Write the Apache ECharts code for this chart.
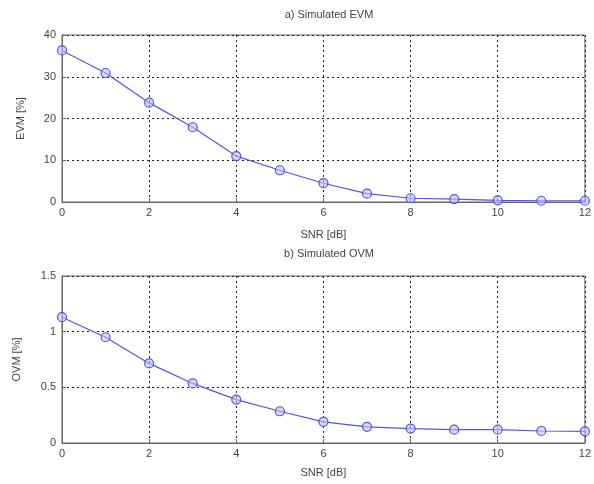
<!DOCTYPE html>
<html>
<head>
<meta charset="utf-8">
<script src="https://cdn.jsdelivr.net/npm/echarts@6/dist/echarts.min.js"></script>
<style>
  html, body { margin: 0; padding: 0; background: #fff; }
  #main { width: 594px; height: 484px; }
</style>
</head>
<body>
<div id="main"></div>
<script>
// SNR in dB (x axis for both plots)
const snr = [0, 1, 2, 3, 4, 5, 6, 7, 8, 9, 10, 11, 12]
// a) simulated EVM [%]
const evm = [36.3, 30.9, 23.8, 17.9, 11.0, 7.6, 4.5, 2.0, 0.9, 0.7, 0.4, 0.3, 0.3]
// b) simulated OVM [%]
const ovm = [1.13, 0.95, 0.715, 0.535, 0.39, 0.285, 0.19, 0.145, 0.13, 0.12, 0.12, 0.108, 0.105]

const txt = '#444'
const lineColor = '#5555dc'
const gridLine = { show: true, lineStyle: { color: '#222', type: [2, 3], width: 1 } }

const xAxisBase = (gridIndex, gap) => ({
  type: 'value',
  gridIndex: gridIndex,
  min: 0,
  max: 12,
  interval: 2,
  name: 'SNR [dB]',
  nameLocation: 'middle',
  nameGap: gap,
  nameTextStyle: { color: txt, fontSize: 11, fontFamily: 'Liberation Sans' },
  axisLine: { show: true, lineStyle: { color: '#666' } },
  axisTick: { show: true, inside: true, length: 4, lineStyle: { color: '#666' } },
  axisLabel: { color: txt, fontSize: 11, margin: 5, fontFamily: 'Liberation Sans' },
  splitLine: gridLine
})

const chart = echarts.init(document.getElementById('main'))
const option = {
  animation: false,
  backgroundColor: '#fff',
  title: [
    {
      text: 'a) Simulated EVM', left: 324, top: 4, textAlign: 'center',
      textStyle: { color: txt, fontSize: 11, fontWeight: 'normal', fontFamily: 'Liberation Sans' }
    },
    {
      text: 'b) Simulated OVM', left: 324, top: 243, textAlign: 'center',
      textStyle: { color: txt, fontSize: 11, fontWeight: 'normal', fontFamily: 'Liberation Sans' }
    }
  ],
  grid: [
    { left: 62, right: 8, top: 35, height: 167, show: true, borderColor: '#666', borderWidth: 1 },
    { left: 62, right: 8, top: 276, height: 167, show: true, borderColor: '#666', borderWidth: 1 }
  ],
  xAxis: [xAxisBase(0, 27), xAxisBase(1, 24)],
  yAxis: [
    {
      type: 'value', gridIndex: 0, min: 0, max: 40, interval: 10,
      name: 'EVM [%]', nameLocation: 'middle', nameGap: 36,
      nameTextStyle: { color: txt, fontSize: 11, fontFamily: 'Liberation Sans' },
      axisLine: { show: true, lineStyle: { color: '#666' } },
      axisTick: { show: true, inside: true, length: 4, lineStyle: { color: '#666' } },
      axisLabel: { color: txt, fontSize: 11, margin: 6, fontFamily: 'Liberation Sans' },
      splitLine: gridLine
    },
    {
      type: 'value', gridIndex: 1, min: 0, max: 1.5, interval: 0.5,
      name: 'OVM [%]', nameLocation: 'middle', nameGap: 40,
      nameTextStyle: { color: txt, fontSize: 11, fontFamily: 'Liberation Sans' },
      axisLine: { show: true, lineStyle: { color: '#666' } },
      axisTick: { show: true, inside: true, length: 4, lineStyle: { color: '#666' } },
      axisLabel: { color: txt, fontSize: 11, margin: 6, fontFamily: 'Liberation Sans' },
      splitLine: gridLine
    }
  ],
  series: [
    {
      type: 'line', xAxisIndex: 0, yAxisIndex: 0,
      data: snr.map((x, i) => [x, evm[i]]),
      symbol: 'circle', symbolSize: 9,
      lineStyle: { color: lineColor, width: 1.2 },
      itemStyle: { color: 'rgba(190,190,245,0.6)', borderColor: lineColor, borderWidth: 1.2 }
    },
    {
      type: 'line', xAxisIndex: 1, yAxisIndex: 1,
      data: snr.map((x, i) => [x, ovm[i]]),
      symbol: 'circle', symbolSize: 9,
      lineStyle: { color: lineColor, width: 1.2 },
      itemStyle: { color: 'rgba(190,190,245,0.6)', borderColor: lineColor, borderWidth: 1.2 }
    }
  ]
}
chart.setOption(option)
</script>
</body>
</html>
